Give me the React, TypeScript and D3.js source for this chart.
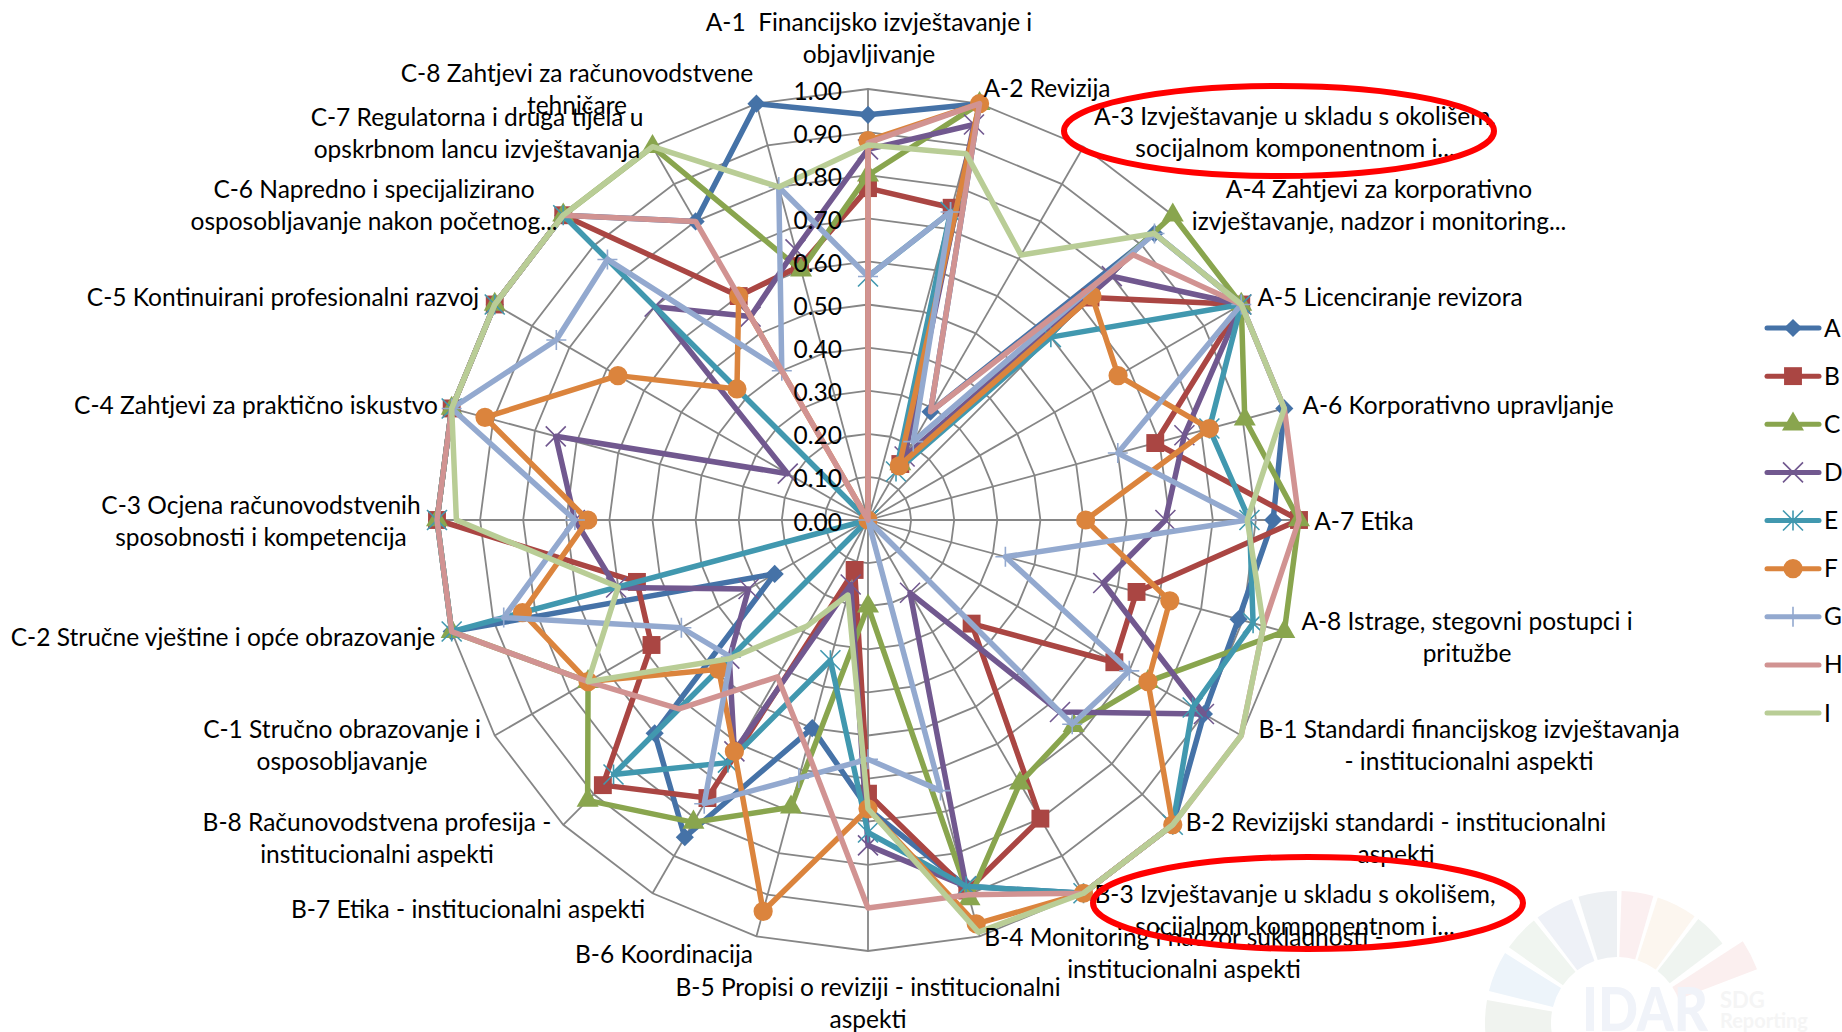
import React from "react";
import * as d3 from "d3";

const categories = [
  "A-1  Financijsko izvještavanje i\nobjavljivanje",
  "A-2 Revizija",
  "A-3 Izvještavanje u skladu s okolišem,\nsocijalnom komponentnom i...",
  "A-4 Zahtjevi za korporativno\nizvještavanje, nadzor i monitoring...",
  "A-5 Licenciranje revizora",
  "A-6 Korporativno upravljanje",
  "A-7 Etika",
  "A-8 Istrage, stegovni postupci i\npritužbe",
  "B-1 Standardi financijskog izvještavanja\n- institucionalni aspekti",
  "B-2 Revizijski standardi - institucionalni\naspekti",
  "B-3 Izvještavanje u skladu s okolišem,\nsocijalnom komponentnom i...",
  "B-4 Monitoring i nadzor sukladnosti -\ninstitucionalni aspekti",
  "B-5 Propisi o reviziji - institucionalni\naspekti",
  "B-6 Koordinacija",
  "B-7 Etika - institucionalni aspekti",
  "B-8 Računovodstvena profesija -\ninstitucionalni aspekti",
  "C-1 Stručno obrazovanje i\nosposobljavanje",
  "C-2 Stručne vještine i opće obrazovanje",
  "C-3 Ocjena računovodstvenih\nsposobnosti i kompetencija",
  "C-4 Zahtjevi za praktično iskustvo",
  "C-5 Kontinuirani profesionalni razvoj",
  "C-6 Napredno i specijalizirano\nosposobljavanje nakon početnog...",
  "C-7 Regulatorna i druga tijela u\nopskrbnom lancu izvještavanja",
  "C-8 Zahtjevi za računovodstvene\ntehničare",
];

const seriesNames = ["A", "B", "C", "D", "E", "F", "G", "H", "I"];

const valuesA = [0.94, 1.0, 0.29, 0.94, 1.0, 1.0, 0.94, 0.89, 0.9, 1.0, 1.0, 0.88, 0.67, 0.5, 0.85, 0.7, 0.25, 1.0, 1.0, 1.0, 1.0, 1.0, 0.8, 1.0];
const valuesB = [0.77, 0.75, 0.15, 0.73, 1.0, 0.69, 1.0, 0.645, 0.66, 0.34, 0.8, 0.89, 0.635, 0.12, 0.745, 0.87, 0.58, 0.555, 1.0, 1.0, 1.0, 1.0, 0.6, 0.61];
const valuesC = [0.8, 1.0, 0.15, 1.0, 1.0, 0.905, 1.0, 1.0, 0.75, 0.675, 0.705, 0.91, 0.2, 0.69, 0.81, 0.92, 0.75, 1.0, 1.0, 1.0, 1.0, 1.0, 1.0, 0.6];
const valuesD = [0.86, 0.95, 0.17, 0.8, 1.0, 0.76, 0.69, 0.565, 0.9, 0.63, 0.195, 0.88, 0.755, 0.155, 0.62, 0.455, 0.32, 0.605, 0.68, 0.75, 0.215, 0.7, 0.545, 0.65];
const valuesE = [0.565, 0.74, 0.13, 0.6, 1.0, 0.82, 0.885, 0.925, 0.87, 1.0, 1.0, 0.88, 0.725, 0.337, 0.65, 0.835, 0, 1.0, 1.0, 1.0, 1.0, 1.0, 0, 0];
const valuesF = [0.88, 1.0, 0.145, 0.735, 0.67, 0.82, 0.505, 0.725, 0.75, 1.0, 1.0, 0.97, 0.67, 0.94, 0.62, 0.49, 0.75, 0.83, 0.65, 0.92, 0.67, 0.43, 0.6, 0];
const valuesG = [0.565, 0.74, 0.21, 0.94, 1.0, 0.6, 0.88, 0.33, 0.7, 0.67, 0, 0.65, 0.555, 0.62, 0.76, 0.45, 0.5, 0.875, 0.68, 1.0, 0.835, 0.855, 0.4, 0.8];
const valuesH = [0.875, 1.0, 0.29, 0.87, 1.0, 1.0, 1.0, 0.95, 1.0, 1.0, 1.0, 0.9, 0.9, 0.55, 0.42, 0.62, 0.75, 1.0, 1.0, 1.0, 1.0, 1.0, 0.8, 0];
const valuesI = [0.87, 0.88, 0.71, 0.94, 1.0, 1.0, 0.88, 0.95, 1.0, 1.0, 1.0, 0.99, 0.67, 0.18, 0.285, 0.455, 0.75, 0.6, 0.955, 1.0, 1.0, 1.0, 1.0, 0.8];

const seriesValues = [valuesA, valuesB, valuesC, valuesD, valuesE, valuesF, valuesG, valuesH, valuesI];
const seriesColors = ["#4572A7", "#AA4643", "#89A54E", "#71588F", "#4198AF", "#DB843D", "#93A9CF", "#D19392", "#B9CD96"];
const axisTicks = d3.range(0, 11).map((d) => d / 10);

// layout of the category labels, in the page's pixels: centre x, y of first line
const labelCentres: [number, number][] = [
  [869, 22], [1047, 88], [1295, 116], [1379, 189], [1390, 297], [1458, 405], [1364, 521], [1467, 621],
  [1469, 729], [1396, 822], [1295, 894], [1184, 937], [868, 987], [664, 954], [468, 909], [377, 822],
  [342, 729], [223, 637], [261, 505], [256, 405], [283, 297], [374, 189], [477, 117], [577, 73],
];
const lineGap = 32;

const wheelColors = ["#f0f3ef", "#edf4fa", "#f0f5f0", "#eef1f7", "#edf0f3", "#fbeff0", "#fcf6ef", "#eff4f0", "#fbefef"];
const wheelStarts = [-100, -76, -55, -37, -17, 2, 18, 38, 57];
const wheelEnds = [-80, -58, -39, -20, 0, 16, 36, 53, 69];

const width = 1842;
const height = 1032;
const cx = 868;
const cy = 520;
const R = 431;
const fontFamily = "Lato, 'Noto Sans', sans-serif";
const fontSize = 24.5;

const radius = d3.scaleLinear().domain([0, 1]).range([0, R]);
const angle = d3.scalePoint<number>().domain(d3.range(0, 25)).range([0, 2 * Math.PI]);

function pt(i: number, v: number): [number, number] {
  const a = angle(i)!;
  return [cx + radius(v) * Math.sin(a), cy - radius(v) * Math.cos(a)];
}

const radarLine = d3
  .lineRadial<number>()
  .angle((_, i) => angle(i)!)
  .radius((d) => radius(d))
  .curve(d3.curveLinearClosed);

function Marker({ s, x, y }: { s: number; x: number; y: number }) {
  const c = seriesColors[s];
  const t = `translate(${x},${y})`;
  const sym = (type: d3.SymbolType, size: number) => d3.symbol().type(type).size(size)()!;
  if (s === 0) return <path transform={t} d={sym(d3.symbolDiamond2, 210)} fill={c} />;
  if (s === 1) return <path transform={t} d={sym(d3.symbolSquare, 320)} fill={c} />;
  if (s === 2) return <path transform={t} d={sym(d3.symbolTriangle, 210)} fill={c} />;
  if (s === 5) return <path transform={t} d={sym(d3.symbolCircle, 290)} fill={c} />;
  const k = 10;
  const xCross = `M${-k},${-k}L${k},${k}M${-k},${k}L${k},${-k}`;
  if (s === 3) return <path transform={t} d={xCross} fill="none" stroke={c} strokeWidth={1.6} />;
  if (s === 4)
    return <path transform={t} d={`${xCross}M0,${-k}L0,${k}`} fill="none" stroke={c} strokeWidth={1.6} />;
  if (s === 6)
    return <path transform={t} d={`M${-k},0L${k},0M0,${-k}L0,${k}`} fill="none" stroke={c} strokeWidth={1.6} />;
  return null;
}

function Legend() {
  const y = d3.scaleLinear().domain([0, 8]).range([328, 713]);
  return (
    <g>
      {seriesNames.map((n, s) => (
        <g key={n}>
          <line x1={1767} x2={1819} y1={y(s)} y2={y(s)} stroke={seriesColors[s]} strokeWidth={5} strokeLinecap="round" />
          <Marker s={s} x={1793} y={y(s)} />
          <text x={1824} y={y(s)} dy="0.35em" fontSize={fontSize} fontFamily={fontFamily} fill="#000">
            {n}
          </text>
        </g>
      ))}
    </g>
  );
}

function Watermark() {
  const arc = d3.arc();
  return (
    <g>
      {wheelColors.map((c, i) => (
        <path
          key={c + i}
          transform="translate(1617,1023)"
          fill={c}
          d={
            arc({
              innerRadius: 66,
              outerRadius: i === 8 ? 150 : 132,
              startAngle: (wheelStarts[i] * Math.PI) / 180,
              endAngle: (wheelEnds[i] * Math.PI) / 180,
            })!
          }
        />
      ))}
      <text x={1582} y={1031} fontSize={60} fontWeight={900} fontFamily={fontFamily} fill="#f0f3f9" textLength={126} lengthAdjust="spacingAndGlyphs">
        IDAR
      </text>
      <text x={1720} y={1008} fontSize={22} fontWeight={700} fontFamily={fontFamily} fill="#f5f5f5">SDG</text>
      <text x={1720} y={1028} fontSize={20} fontWeight={700} fontFamily={fontFamily} fill="#f5f5f5">Reporting</text>
    </g>
  );
}

export default function App() {
  const n = categories.length;
  return (
    <svg width={width} height={height} style={{ position: "absolute", left: 0, top: 0, display: "block" }}>
      <rect width={width} height={height} fill="#fff" />
      <Watermark />
      {d3.range(n).map((i) => {
        const [x, y] = pt(i, 1);
        return <line key={i} x1={cx} y1={cy} x2={x} y2={y} stroke="#868686" strokeWidth={1.8} />;
      })}
      {axisTicks.slice(1).map((t) => (
        <path key={t} transform={`translate(${cx},${cy})`} d={radarLine(d3.range(n).map(() => t))!} fill="none" stroke="#868686" strokeWidth={1.8} />
      ))}
      {seriesValues.map((vals, s) => (
        <g key={s}>
          <path transform={`translate(${cx},${cy})`} d={radarLine(vals)!} fill="none" stroke={seriesColors[s]} strokeWidth={5.5} strokeLinejoin="round" />
          {vals.map((v, i) => {
            const [x, y] = pt(i, v);
            return <Marker key={i} s={s} x={x} y={y} />;
          })}
        </g>
      ))}
      {axisTicks.map((t) => (
        <text key={t} x={842} y={cy - radius(t) + 2} dy="0.35em" textAnchor="end" fontSize={fontSize} fontFamily={fontFamily} fill="#000">
          {t.toFixed(2)}
        </text>
      ))}
      {categories.map((c, i) =>
        c.split("\n").map((line, j) => (
          <text key={j} x={labelCentres[i][0]} y={labelCentres[i][1] + j * lineGap} dy="0.35em" textAnchor="middle" fontSize={fontSize} fontFamily={fontFamily} fill="#000" xmlSpace="preserve">
            {line}
          </text>
        ))
      )}
      <Legend />
      <ellipse cx={1279} cy={131} rx={215} ry={45} fill="none" stroke="#f00" strokeWidth={6} />
      <ellipse cx={1308} cy={903} rx={215} ry={46} fill="none" stroke="#f00" strokeWidth={6} />
    </svg>
  );
}
